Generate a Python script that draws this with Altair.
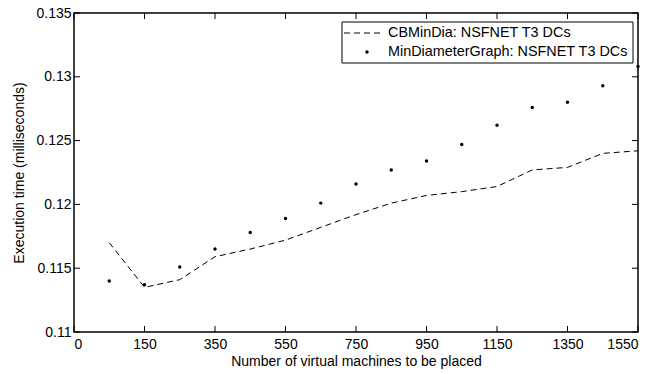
import json
import altair as alt
import pandas as pd

# ---- data ----
vms = [50, 150, 250, 350, 450, 550, 650, 750, 850, 950, 1050, 1150, 1250, 1350, 1450, 1550]
cbmindia = [0.1170, 0.1135, 0.1141, 0.1159, 0.1165, 0.1172, 0.1182, 0.1192,
            0.1201, 0.1207, 0.1210, 0.1214, 0.1227, 0.1229, 0.1240, 0.1242]
mindiameter = [0.1140, 0.1137, 0.1151, 0.1165, 0.1178, 0.1189, 0.1201, 0.1216,
               0.1227, 0.1234, 0.1247, 0.1262, 0.1276, 0.1280, 0.1293, 0.1308]
x_tick_labels = ["0", "150", "350", "550", "750", "950", "1150", "1350", "1550"]
y_ticks = [0.11, 0.115, 0.12, 0.125, 0.13, 0.135]
series_names = ["CBMinDia: NSFNET T3 DCs", "MinDiameterGraph: NSFNET T3 DCs"]

FONT = "Liberation Sans"
W, H = 564, 319
TICK = 6

df = pd.DataFrame({"pos": list(range(1, len(vms) + 1)), "vms": vms,
                   "cb": cbmindia, "md": mindiameter})
xt = pd.DataFrame({"pos": [2 * i for i in range(len(x_tick_labels))], "label": x_tick_labels})
yt = pd.DataFrame({"v": y_ticks})

xscale = alt.Scale(domain=[0, 16], nice=False, zero=False)
yscale = alt.Scale(domain=[0.11, 0.135], nice=False, zero=False)

label_expr = "%s[round(datum.value/2)]" % json.dumps(x_tick_labels)

xaxis = alt.Axis(values=[2 * i for i in range(len(x_tick_labels))], labelExpr=label_expr,
                 title="Number of virtual machines to be placed", ticks=False, domain=False,
                 grid=False, labelPadding=5, titlePadding=3)
yaxis = alt.Axis(values=y_ticks, format=".3~f", title="Execution time (milliseconds)",
                 ticks=False, domain=False, grid=False, labelPadding=3, titlePadding=9)

base = alt.Chart(df)

line = base.mark_line(color="black", strokeWidth=1, strokeDash=[6, 4]).encode(
    x=alt.X("pos:Q", scale=xscale, axis=xaxis),
    y=alt.Y("cb:Q", scale=yscale, axis=yaxis),
)
dots = base.mark_circle(color="black", size=12, opacity=1).encode(
    x=alt.X("pos:Q", scale=xscale),
    y=alt.Y("md:Q", scale=yscale),
)

# inward ticks on all four sides
xt_bottom = alt.Chart(xt).mark_rule(color="black", strokeWidth=1).encode(
    x=alt.X("pos:Q", scale=xscale), y=alt.value(H), y2=alt.value(H - TICK))
xt_top = alt.Chart(xt).mark_rule(color="black", strokeWidth=1).encode(
    x=alt.X("pos:Q", scale=xscale), y=alt.value(0), y2=alt.value(TICK))
yt_left = alt.Chart(yt).mark_rule(color="black", strokeWidth=1).encode(
    y=alt.Y("v:Q", scale=yscale), x=alt.value(0), x2=alt.value(TICK))
yt_right = alt.Chart(yt).mark_rule(color="black", strokeWidth=1).encode(
    y=alt.Y("v:Q", scale=yscale), x=alt.value(W), x2=alt.value(W - TICK))

# legend
leg = pd.DataFrame({"name": series_names, "row": [0, 1]})
LX0, LX1, LY0, LY1 = 268, 559, 9, 50
leg_box = alt.Chart(leg.head(1)).mark_rect(fill="white", stroke="black", strokeWidth=1).encode(
    x=alt.value(LX0), x2=alt.value(LX1), y=alt.value(LY0), y2=alt.value(LY1))
leg_text0 = alt.Chart(leg.iloc[[0]]).mark_text(align="left", baseline="middle", font=FONT,
                                               fontSize=14.4, color="black").encode(
    x=alt.value(314), y=alt.value(20), text="name:N")
leg_text1 = alt.Chart(leg.iloc[[1]]).mark_text(align="left", baseline="middle", font=FONT,
                                               fontSize=14.4, color="black").encode(
    x=alt.value(314), y=alt.value(39), text="name:N")
leg_line = alt.Chart(leg.iloc[[0]]).mark_rule(color="black", strokeWidth=1, strokeDash=[6, 4]).encode(
    x=alt.value(270), x2=alt.value(308), y=alt.value(20))
leg_dot = alt.Chart(leg.iloc[[1]]).mark_circle(color="black", size=12, opacity=1).encode(
    x=alt.value(293), y=alt.value(39))

chart = alt.layer(line, dots, xt_bottom, xt_top, yt_left, yt_right,
                  leg_box, leg_line, leg_dot, leg_text0, leg_text1).properties(
    width=W, height=H,
    autosize=alt.AutoSizeParams(type="none"),
    padding={"left": 74, "top": 13, "right": 32, "bottom": 42},
    background="white",
).configure_view(stroke="black", strokeWidth=1.5).configure_axis(
    labelFont=FONT, titleFont=FONT, labelFontSize=14, titleFontSize=14,
    labelColor="black", titleColor="black", titleFontWeight="normal",
)

chart.save("out.html", embed_options={"renderer": "svg", "actions": False})
